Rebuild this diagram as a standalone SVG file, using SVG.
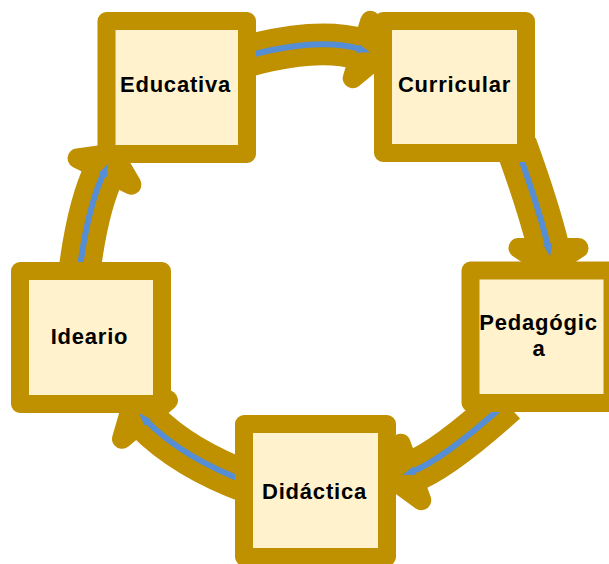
<svg xmlns="http://www.w3.org/2000/svg" width="609" height="564" viewBox="0 0 609 564">
<style>
.box{fill:#FFF2CC;stroke:#BF9000;stroke-width:18;stroke-linejoin:round}
.lbl{font-family:"Liberation Sans",Arial,sans-serif;font-weight:bold;font-size:22px;letter-spacing:0.8px;fill:#000;text-anchor:middle}
.shaft{fill:none;stroke:#BF9000;stroke-width:42}
.core{fill:none;stroke:#558ED5;stroke-width:6}
</style>
<defs>
<path id="head" d="M0,-30 L20,0 L0,30 Z" fill="#BF9000" stroke="#BF9000" stroke-width="20" stroke-linejoin="round"/>
<path id="btip" d="M-4,-4.5 L9,0 L-4,4.5 Z" fill="#558ED5"/>
</defs>
<g id="connectors">
  <g id="a1">
    <path class="shaft" d="M240,58 Q316.7,36 361.5,49.5"/>
    <use href="#head" transform="translate(361.5,49.5) rotate(17)"/>
    <path class="core" d="M240,58 Q316.7,36 361.5,49.5"/>
    <use href="#btip" transform="translate(361.5,49.5) rotate(17)"/>
  </g>
  <g id="a2">
    <path class="shaft" d="M516,145 Q538.6,207 548.5,248"/>
    <use href="#head" transform="translate(548.5,248) rotate(90)"/>
    <path class="core" d="M516,145 Q538.6,207 548.5,248"/>
    <use href="#btip" transform="translate(548.5,248) rotate(80)"/>
  </g>
  <g id="a3">
    <path class="shaft" d="M506,403 Q441.9,460.7 411,472"/>
    <use href="#head" transform="translate(411,472) rotate(160)"/>
    <path class="core" d="M506,403 Q441.9,460.7 411,472"/>
    <use href="#btip" transform="translate(411,472) rotate(160)"/>
  </g>
  <g id="a4">
    <path class="shaft" d="M250,483 Q184,459 145,419.5"/>
    <use href="#head" transform="translate(145,419.5) rotate(230)"/>
    <path class="core" d="M250,483 Q184,459 145,419.5"/>
    <use href="#btip" transform="translate(145,419.5) rotate(226)"/>
  </g>
  <g id="a5">
    <path class="shaft" d="M79,275 Q87.4,206.5 104.5,171.5"/>
    <use href="#head" transform="translate(104.5,171.5) rotate(-64)"/>
    <path class="core" d="M79,275 Q87.4,206.5 104.5,171.5"/>
    <use href="#btip" transform="translate(104.5,171.5) rotate(-64)"/>
  </g>
</g>
<g id="educativa">
  <rect class="box" x="106.5" y="21" width="140.5" height="133"/>
  <text class="lbl" x="175.5" y="92">Educativa</text>
</g>
<g id="curricular">
  <rect class="box" x="383" y="21" width="143" height="132"/>
  <text class="lbl" x="454.5" y="92">Curricular</text>
</g>
<g id="pedagogica">
  <rect class="box" x="470.5" y="270.5" width="142" height="132.5"/>
  <text class="lbl" x="538.5" y="330"><tspan x="538.5" y="330">Pedagógic</tspan><tspan x="539" y="355.5">a</tspan></text>
</g>
<g id="didactica">
  <rect class="box" x="244" y="424" width="143" height="133"/>
  <text class="lbl" x="314.5" y="499">Didáctica</text>
</g>
<g id="ideario">
  <rect class="box" x="20" y="271" width="142" height="133"/>
  <text class="lbl" x="89.5" y="344">Ideario</text>
</g>
</svg>
